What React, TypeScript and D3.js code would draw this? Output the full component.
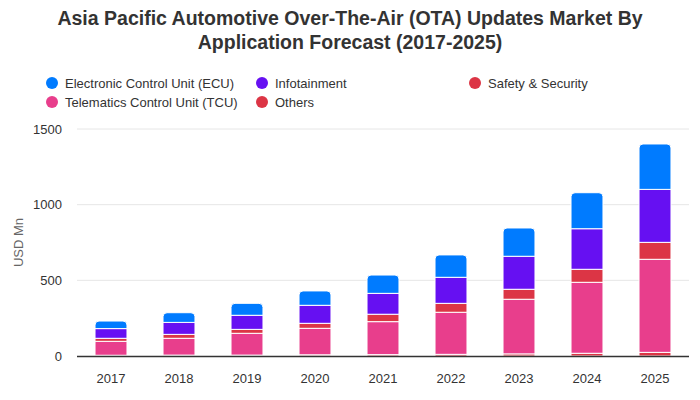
import React from "react";
import * as d3 from "d3";

const years = ["2017", "2018", "2019", "2020", "2021", "2022", "2023", "2024", "2025"];
const others = [5, 6, 6, 8, 9, 11, 14, 18, 24];
const tcu = [92, 111, 144, 175, 218, 278, 361, 469, 615];
const safety = [20, 26, 26, 33, 49, 59, 66, 86, 112];
const infotainment = [64, 79, 93, 119, 138, 172, 218, 268, 350];
const ecu = [50, 64, 79, 95, 121, 148, 187, 238, 300];
const yTicks = [0, 500, 1000, 1500];

const seriesNames = ["Others", "Telematics Control Unit (TCU)", "Safety & Security", "Infotainment", "Electronic Control Unit (ECU)"];
const seriesValues = [others, tcu, safety, infotainment, ecu];
const seriesColors = ["#dc3545", "#e83e8c", "#dc3545", "#6610f2", "#007bff"];

const legendItems = [
  { name: "Electronic Control Unit (ECU)", color: "#007bff", x: 52, y: 83 },
  { name: "Infotainment", color: "#6610f2", x: 262, y: 83 },
  { name: "Safety & Security", color: "#dc3545", x: 475, y: 83 },
  { name: "Telematics Control Unit (TCU)", color: "#e83e8c", x: 52, y: 102 },
  { name: "Others", color: "#dc3545", x: 262, y: 102 },
];

function topRounded(x: number, y: number, w: number, h: number, r: number) {
  const rr = Math.min(r, h, w / 2);
  return `M${x},${y + h} L${x},${y + rr} Q${x},${y} ${x + rr},${y} L${x + w - rr},${y} Q${x + w},${y} ${x + w},${y + rr} L${x + w},${y + h} Z`;
}

export default function App() {
  const W = 700, H = 400;
  const left = 77, right = 689, top = 129, bottom = 356;
  const x = d3.scaleBand().domain(years).range([left, right]).paddingInner(0.53).paddingOuter(0.265);
  const y = d3.scaleLinear().domain([0, 1500]).range([bottom, top]);
  const table = years.map((yr, i) => {
    const o: any = { year: yr };
    seriesNames.forEach((n, k) => (o[n] = seriesValues[k][i]));
    return o;
  });
  const stacked = d3.stack().keys(seriesNames)(table);
  const font = "'Liberation Sans', Arial, sans-serif";
  return (
    <svg width={W} height={H} style={{ position: "absolute", left: 0, top: 0, background: "#fff" }} fontFamily={font}>
      <rect width={W} height={H} fill="#fff" />
      <text x={350} y={25} textAnchor="middle" fontSize={19.5} fontWeight="bold" fill="#333">
        Asia Pacific Automotive Over-The-Air (OTA) Updates Market By
      </text>
      <text x={350} y={49} textAnchor="middle" fontSize={19.5} fontWeight="bold" fill="#333">
        Application Forecast (2017-2025)
      </text>
      {legendItems.map((l) => (
        <g key={l.name}>
          <circle cx={l.x} cy={l.y} r={6} fill={l.color} />
          <text x={l.x + 13} y={l.y + 4.5} fontSize={13} fill="#333">{l.name}</text>
        </g>
      ))}
      {yTicks.map((t) => (
        <g key={t}>
          {t > 0 && <line x1={left} x2={right} y1={y(t)} y2={y(t)} stroke="#e6e6e6" strokeWidth={1} />}
          <text x={62} y={y(t) + 4.5} textAnchor="end" fontSize={13} fill="#333">{t}</text>
        </g>
      ))}
      <text transform={`translate(23,${(top + bottom) / 2}) rotate(-90)`} textAnchor="middle" fontSize={13} fill="#666">USD Mn</text>
      {stacked.map((s, k) => (
        <g key={s.key}>
          {s.map((d, i) => {
            const bx = x(years[i])!;
            const bw = x.bandwidth();
            const y0 = y(d[0]);
            const y1 = y(d[1]);
            const h = y0 - y1;
            if (k === stacked.length - 1) {
              return <path key={i} d={topRounded(bx, y1, bw, h, 4)} fill={seriesColors[k]} stroke="#fff" strokeWidth={1} />;
            }
            return <rect key={i} x={bx} y={y1} width={bw} height={h} fill={seriesColors[k]} stroke="#fff" strokeWidth={1} />;
          })}
        </g>
      ))}
      <line x1={left} x2={right} y1={bottom + 0.5} y2={bottom + 0.5} stroke="#333" strokeWidth={1.5} />
      {years.map((yr) => (
        <text key={yr} x={x(yr)! + x.bandwidth() / 2} y={383} textAnchor="middle" fontSize={13} fill="#333">{yr}</text>
      ))}
    </svg>
  );
}
